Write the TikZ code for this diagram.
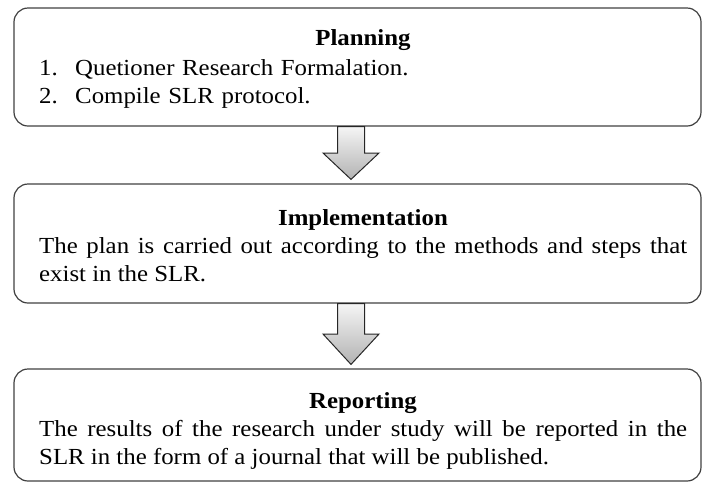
\documentclass[tikz,border=0pt]{standalone}
\usepackage{fontspec}
\setmainfont{Liberation Serif}[FakeStretch=1.08]
\usetikzlibrary{calc}

\tikzset{
  stage/.style={rectangle, rounded corners=14pt, draw=black!75, line width=1.2pt,
    minimum width=687pt, inner sep=0pt},
  stagetitle/.style={anchor=base, inner sep=0pt, font=\fontsize{23}{28}\selectfont\bfseries},
  stagebody/.style={anchor=base west, inner sep=0pt, text width=648pt, align=justify,
    font=\fontsize{23}{28}\selectfont},
  flowarrow/.style={draw=black!85, line width=1pt, top color=black!4, bottom color=black!30}
}

% 方块箭头：从上一个阶段的下边指向下一个阶段
\newcommand{\stagearrow}[2]{%
  \draw[flowarrow] let \p1=(#1), \p2=(#2) in
    (\x1-13.5pt,\y1) -- (\x1+13.5pt,\y1)
    -- (\x1+13.5pt,{(\y1+\y2+4pt)/2}) -- (\x1+28pt,{(\y1+\y2+4pt)/2})
    -- (\x1,\y2+4pt)
    -- (\x1-28pt,{(\y1+\y2+4pt)/2}) -- (\x1-13.5pt,{(\y1+\y2+4pt)/2}) -- cycle;}

\begin{document}
\begin{tikzpicture}[x=1pt, y=-1pt]
    \useasboundingbox (0,0) rectangle (702,483);

    % 三个阶段的圆角框
    \node[stage, minimum height=118pt] (plan) at (357.5,67) {};
    \node[stage, minimum height=119pt] (impl) at (357.5,243.5) {};
    \node[stage, minimum height=112pt] (report) at (357.5,425) {};

    % 阶段之间的箭头
    \stagearrow{$(plan.south)+(-6.5,0)$}{impl.north}
    \stagearrow{$(impl.south)+(-6.5,0)$}{report.north}

    % Planning
    \node[stagetitle] (plantitle) at (363,45) {Planning};
    \node[stagebody, align=left] (planbody) at (39,75)
        {\makebox[36pt][l]{1.}Quetioner Research Formalation.\\
         \makebox[36pt][l]{2.}Compile SLR protocol.};

    % Implementation
    \node[stagetitle] (impltitle) at (363,225) {Implementation};
    \node[stagebody] (implbody) at (39,253)
        {The plan is carried out according to the methods and steps that\linebreak
         exist in the SLR.};

    % Reporting
    \node[stagetitle] (reporttitle) at (363,408) {Reporting};
    \node[stagebody] (reportbody) at (39,436)
        {The results of the research under study will be reported in the\linebreak
         SLR in the form of a journal that will be published.};
\end{tikzpicture}
\end{document}
